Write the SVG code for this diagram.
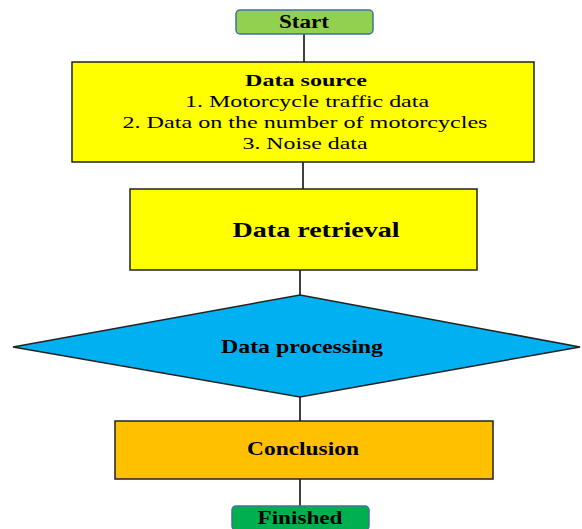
<svg xmlns="http://www.w3.org/2000/svg" width="582" height="529" viewBox="0 0 582 529">
<style>
text{font-family:"Liberation Serif","Times New Roman",serif;fill:#000;text-anchor:middle}
.b{font-weight:bold}
.term{stroke:#41719C;stroke-width:1.5}
.box{stroke:#222;stroke-width:1.5}
.conn line{stroke:#000;stroke-width:1.5}
</style>
<rect width="582" height="529" fill="#fff"/>
<g class="conn">
<line x1="304" y1="34" x2="304" y2="62"/>
<line x1="303" y1="162" x2="303" y2="189"/>
<line x1="300" y1="270" x2="300" y2="295"/>
<line x1="300" y1="397" x2="300" y2="421"/>
<line x1="300" y1="479" x2="300" y2="506"/>
</g>
<g id="start">
<rect class="term" x="236" y="10" width="137" height="24" rx="4" fill="#92D050"/>
<text class="b" x="304" y="28" font-size="18" textLength="50" lengthAdjust="spacingAndGlyphs">Start</text>
</g>
<g id="datasource">
<rect class="box" x="72" y="62" width="462" height="100" fill="#FFFF00"/>
<text class="b" x="306" y="86" font-size="17" textLength="122" lengthAdjust="spacingAndGlyphs">Data source</text>
<text x="307" y="107" font-size="17" textLength="244" lengthAdjust="spacingAndGlyphs">1. Motorcycle traffic data</text>
<text x="305" y="128" font-size="17" textLength="365" lengthAdjust="spacingAndGlyphs">2. Data on the number of motorcycles</text>
<text x="305" y="149" font-size="17" textLength="125" lengthAdjust="spacingAndGlyphs">3. Noise data</text>
</g>
<g id="retrieval">
<rect class="box" x="130" y="189" width="347" height="81" fill="#FFFF00"/>
<text class="b" x="316" y="237" font-size="22" textLength="167" lengthAdjust="spacingAndGlyphs">Data retrieval</text>
</g>
<g id="processing">
<polygon class="box" points="300,295 580,347 300,397 13,347" fill="#00B0F0"/>
<text class="b" x="302" y="353" font-size="19" textLength="162" lengthAdjust="spacingAndGlyphs">Data processing</text>
</g>
<g id="conclusion">
<rect class="box" x="115" y="421" width="378" height="58" fill="#FFC000"/>
<text class="b" x="303" y="455" font-size="18" textLength="112" lengthAdjust="spacingAndGlyphs">Conclusion</text>
</g>
<g id="finished">
<rect class="term" x="232" y="506" width="137" height="24" rx="4" fill="#00B050"/>
<text class="b" x="300" y="524" font-size="18" textLength="85" lengthAdjust="spacingAndGlyphs">Finished</text>
</g>
</svg>
